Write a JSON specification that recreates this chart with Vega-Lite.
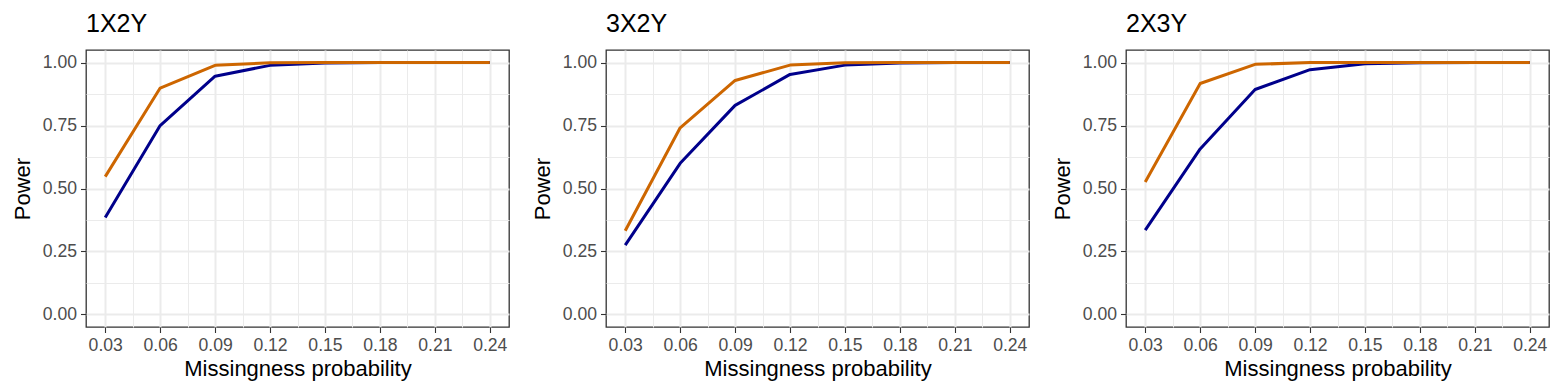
{
  "$schema": "https://vega.github.io/schema/vega-lite/v6.json",
  "background": "white",
  "padding": {"left": 10, "top": 12, "right": 10, "bottom": 5},
  "data": {"values": [
    {"panel": "1X2Y", "series": "s1", "p": 0.03, "power": 0.385},
    {"panel": "1X2Y", "series": "s1", "p": 0.06, "power": 0.750},
    {"panel": "1X2Y", "series": "s1", "p": 0.09, "power": 0.946},
    {"panel": "1X2Y", "series": "s1", "p": 0.12, "power": 0.989},
    {"panel": "1X2Y", "series": "s1", "p": 0.15, "power": 0.998},
    {"panel": "1X2Y", "series": "s1", "p": 0.18, "power": 1.0},
    {"panel": "1X2Y", "series": "s1", "p": 0.21, "power": 1.0},
    {"panel": "1X2Y", "series": "s1", "p": 0.24, "power": 1.0},
    {"panel": "1X2Y", "series": "s2", "p": 0.03, "power": 0.547},
    {"panel": "1X2Y", "series": "s2", "p": 0.06, "power": 0.899},
    {"panel": "1X2Y", "series": "s2", "p": 0.09, "power": 0.989},
    {"panel": "1X2Y", "series": "s2", "p": 0.12, "power": 0.999},
    {"panel": "1X2Y", "series": "s2", "p": 0.15, "power": 1.0},
    {"panel": "1X2Y", "series": "s2", "p": 0.18, "power": 1.0},
    {"panel": "1X2Y", "series": "s2", "p": 0.21, "power": 1.0},
    {"panel": "1X2Y", "series": "s2", "p": 0.24, "power": 1.0},
    {"panel": "3X2Y", "series": "s1", "p": 0.03, "power": 0.275},
    {"panel": "3X2Y", "series": "s1", "p": 0.06, "power": 0.600},
    {"panel": "3X2Y", "series": "s1", "p": 0.09, "power": 0.830},
    {"panel": "3X2Y", "series": "s1", "p": 0.12, "power": 0.953},
    {"panel": "3X2Y", "series": "s1", "p": 0.15, "power": 0.990},
    {"panel": "3X2Y", "series": "s1", "p": 0.18, "power": 0.998},
    {"panel": "3X2Y", "series": "s1", "p": 0.21, "power": 1.0},
    {"panel": "3X2Y", "series": "s1", "p": 0.24, "power": 1.0},
    {"panel": "3X2Y", "series": "s2", "p": 0.03, "power": 0.332},
    {"panel": "3X2Y", "series": "s2", "p": 0.06, "power": 0.741},
    {"panel": "3X2Y", "series": "s2", "p": 0.09, "power": 0.929},
    {"panel": "3X2Y", "series": "s2", "p": 0.12, "power": 0.990},
    {"panel": "3X2Y", "series": "s2", "p": 0.15, "power": 0.999},
    {"panel": "3X2Y", "series": "s2", "p": 0.18, "power": 1.0},
    {"panel": "3X2Y", "series": "s2", "p": 0.21, "power": 1.0},
    {"panel": "3X2Y", "series": "s2", "p": 0.24, "power": 1.0},
    {"panel": "2X3Y", "series": "s1", "p": 0.03, "power": 0.335},
    {"panel": "2X3Y", "series": "s1", "p": 0.06, "power": 0.657},
    {"panel": "2X3Y", "series": "s1", "p": 0.09, "power": 0.893},
    {"panel": "2X3Y", "series": "s1", "p": 0.12, "power": 0.972},
    {"panel": "2X3Y", "series": "s1", "p": 0.15, "power": 0.995},
    {"panel": "2X3Y", "series": "s1", "p": 0.18, "power": 0.999},
    {"panel": "2X3Y", "series": "s1", "p": 0.21, "power": 1.0},
    {"panel": "2X3Y", "series": "s1", "p": 0.24, "power": 1.0},
    {"panel": "2X3Y", "series": "s2", "p": 0.03, "power": 0.526},
    {"panel": "2X3Y", "series": "s2", "p": 0.06, "power": 0.917},
    {"panel": "2X3Y", "series": "s2", "p": 0.09, "power": 0.993},
    {"panel": "2X3Y", "series": "s2", "p": 0.12, "power": 1.0},
    {"panel": "2X3Y", "series": "s2", "p": 0.15, "power": 1.0},
    {"panel": "2X3Y", "series": "s2", "p": 0.18, "power": 1.0},
    {"panel": "2X3Y", "series": "s2", "p": 0.21, "power": 1.0},
    {"panel": "2X3Y", "series": "s2", "p": 0.24, "power": 1.0}
  ]},
  "facet": {
    "column": {
      "field": "panel", "type": "nominal",
      "sort": ["1X2Y", "3X2Y", "2X3Y"],
      "header": {
        "title": null,
        "labelAnchor": "start",
        "labelAlign": "left",
        "labelFont": "Liberation Sans",
        "labelFontSize": 25,
        "labelColor": "black",
        "labelPadding": 12
      }
    }
  },
  "spacing": 20,
  "resolve": {"axis": {"y": "independent", "x": "independent"}},
  "spec": {
    "width": 423,
    "height": 277,
    "mark": {"type": "line", "strokeWidth": 3, "strokeJoin": "round", "strokeCap": "butt"},
    "encoding": {
      "x": {
        "field": "p", "type": "quantitative",
        "scale": {"domain": [0.0195, 0.2505], "nice": false, "zero": false},
        "axis": {
          "title": "Missingness probability",
          "values": [0.03, 0.045, 0.06, 0.075, 0.09, 0.105, 0.12, 0.135, 0.15, 0.165, 0.18, 0.195, 0.21, 0.225, 0.24],
          "labelExpr": "round(datum.value*1000) % 30 == 0 ? format(datum.value, '.2f') : ''",
          "gridWidth": {"condition": {"test": "round(datum.value*1000) % 30 == 0", "value": 2}, "value": 1},
          "tickOpacity": {"condition": {"test": "round(datum.value*1000) % 30 == 0", "value": 1}, "value": 0}
        }
      },
      "y": {
        "field": "power", "type": "quantitative",
        "scale": {"domain": [-0.05, 1.05], "nice": false, "zero": false},
        "axis": {
          "title": "Power",
          "values": [0, 0.125, 0.25, 0.375, 0.5, 0.625, 0.75, 0.875, 1.0],
          "labelExpr": "round(datum.value*1000) % 250 == 0 ? format(datum.value, '.2f') : ''",
          "gridWidth": {"condition": {"test": "round(datum.value*1000) % 250 == 0", "value": 2}, "value": 1},
          "tickOpacity": {"condition": {"test": "round(datum.value*1000) % 250 == 0", "value": 1}, "value": 0}
        }
      },
      "color": {
        "field": "series", "type": "nominal",
        "scale": {"domain": ["s1", "s2"], "range": ["#00008B", "#CD6600"]},
        "legend": null
      }
    }
  },
  "config": {
    "font": "Liberation Sans",
    "view": {"stroke": "#333333", "strokeWidth": 1.3, "fill": "white"},
    "axis": {
      "domain": false,
      "grid": true,
      "gridColor": "#EBEBEB",
      "tickColor": "#333333",
      "tickSize": 5.5,
      "tickWidth": 1.1,
      "labelFont": "Liberation Sans",
      "labelFontSize": 17.6,
      "labelColor": "#4D4D4D",
      "labelPadding": 4,
      "labelOverlap": false,
      "labelFlush": false,
      "titleFont": "Liberation Sans",
      "titleFontSize": 22,
      "titleFontWeight": "normal",
      "titleColor": "black"
    },
    "axisX": {"titlePadding": 4},
    "axisY": {"titlePadding": 8}
  }
}
